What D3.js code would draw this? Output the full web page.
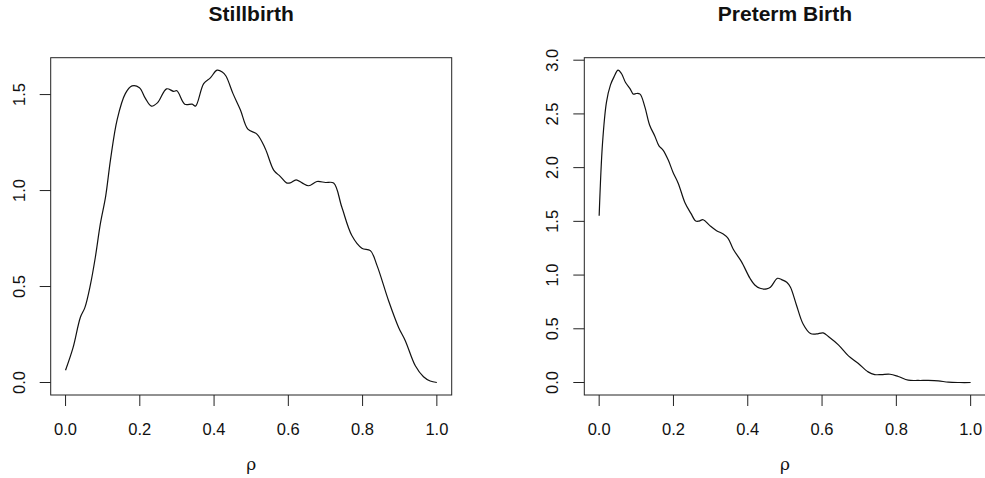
<!DOCTYPE html>
<html>
<head>
<meta charset="utf-8">
<script src="https://cdn.jsdelivr.net/npm/d3@7"></script>
<style>
  body { margin: 0; background: #fff; }
  svg { display: block; }
</style>
</head>
<body>
<div id="chart"></div>
<script>
// density estimates
const stillRho = [0, 0.02, 0.04, 0.052, 0.067, 0.08, 0.094, 0.108, 0.121, 0.139, 0.161, 0.179, 0.199, 0.215, 0.231, 0.248, 0.272, 0.291, 0.3, 0.321, 0.341, 0.35, 0.372, 0.39, 0.408, 0.422, 0.432, 0.451, 0.471, 0.491, 0.516, 0.538, 0.561, 0.578, 0.595, 0.605, 0.621, 0.637, 0.655, 0.677, 0.7, 0.722, 0.744, 0.771, 0.798, 0.821, 0.839, 0.87, 0.897, 0.915, 0.942, 0.964, 0.982, 1.0]
const stillDens = [0.064, 0.18, 0.34, 0.39, 0.51, 0.65, 0.83, 0.97, 1.16, 1.37, 1.505, 1.545, 1.536, 1.48, 1.44, 1.458, 1.53, 1.517, 1.52, 1.45, 1.45, 1.44, 1.557, 1.587, 1.627, 1.618, 1.597, 1.505, 1.42, 1.32, 1.293, 1.218, 1.105, 1.074, 1.04, 1.04, 1.056, 1.04, 1.025, 1.047, 1.042, 1.039, 0.914, 0.766, 0.70, 0.687, 0.609, 0.426, 0.287, 0.218, 0.087, 0.03, 0.008, 0.0]

const pretermRho = [0, 0.009, 0.0197, 0.0305, 0.04, 0.051, 0.06, 0.071, 0.083, 0.092, 0.1, 0.11, 0.123, 0.136, 0.15, 0.161, 0.172, 0.186, 0.199, 0.213, 0.231, 0.247, 0.26, 0.269, 0.28, 0.298, 0.316, 0.334, 0.347, 0.361, 0.383, 0.406, 0.419, 0.433, 0.451, 0.461, 0.48, 0.491, 0.505, 0.515, 0.531, 0.549, 0.569, 0.585, 0.603, 0.617, 0.644, 0.671, 0.697, 0.724, 0.742, 0.76, 0.783, 0.805, 0.832, 0.859, 0.886, 0.913, 0.94, 0.971, 1.0]
const pretermDens = [1.553, 2.225, 2.61, 2.77, 2.845, 2.907, 2.876, 2.792, 2.736, 2.684, 2.69, 2.684, 2.566, 2.395, 2.293, 2.203, 2.163, 2.07, 1.955, 1.853, 1.673, 1.574, 1.503, 1.503, 1.515, 1.46, 1.413, 1.382, 1.342, 1.24, 1.125, 0.97, 0.908, 0.877, 0.871, 0.886, 0.97, 0.958, 0.933, 0.886, 0.722, 0.545, 0.456, 0.452, 0.462, 0.428, 0.35, 0.248, 0.18, 0.099, 0.074, 0.074, 0.077, 0.056, 0.022, 0.019, 0.019, 0.015, 0.003, 0.0, 0.0]

const xTicks = [0, 0.2, 0.4, 0.6, 0.8, 1.0]
const stillTicks = [0, 0.5, 1.0, 1.5]
const pretermTicks = [0, 0.5, 1.0, 1.5, 2.0, 2.5, 3.0]

const panels = [
    { title: 'Stillbirth', rho: stillRho, dens: stillDens, yTicks: stillTicks, left: 50.7, right: 451.7 },
    { title: 'Preterm Birth', rho: pretermRho, dens: pretermDens, yTicks: pretermTicks, left: 584.3, right: 985.5 }
]

const dims = {
    width: 985,
    height: 478,
    plotTop: 57.7,
    plotBottom: 395
}

const svg = d3.select('#chart')
    .append('svg')
    .attr('width', dims.width)
    .attr('height', dims.height)

const tickFont = '16.5px "Liberation Sans", Arial, sans-serif'

panels.forEach(p => {
    // R style 4% padding on both axes
    const x = d3.scaleLinear().domain([-0.04, 1.04]).range([p.left, p.right])
    const [lo, hi] = d3.extent(p.dens)
    const pad = (hi - lo) * 0.04
    const y = d3.scaleLinear().domain([lo - pad, hi + pad]).range([dims.plotBottom, dims.plotTop])

    const g = svg.append('g')

    g.append('rect')
        .attr('x', p.left)
        .attr('y', dims.plotTop)
        .attr('width', p.right - p.left)
        .attr('height', dims.plotBottom - dims.plotTop)
        .attr('fill', 'none')
        .attr('stroke', '#222')
        .attr('stroke-width', 1)

    // x axis
    const xa = g.append('g')
    xa.selectAll('line')
        .data(xTicks)
        .join('line')
        .attr('x1', d => x(d)).attr('x2', d => x(d))
        .attr('y1', dims.plotBottom).attr('y2', dims.plotBottom + 11)
        .attr('stroke', '#222')
    xa.selectAll('text')
        .data(xTicks)
        .join('text')
        .attr('x', d => x(d))
        .attr('y', dims.plotBottom + 40)
        .attr('text-anchor', 'middle')
        .style('font', tickFont)
        .attr('fill', '#111')
        .text(d => d3.format('.1f')(d))

    // y axis
    const ya = g.append('g')
    ya.selectAll('line')
        .data(p.yTicks)
        .join('line')
        .attr('x1', p.left - 11).attr('x2', p.left)
        .attr('y1', d => y(d)).attr('y2', d => y(d))
        .attr('stroke', '#222')
    ya.selectAll('text')
        .data(p.yTicks)
        .join('text')
        .attr('transform', d => `translate(${p.left - 26},${y(d)}) rotate(-90)`)
        .attr('text-anchor', 'middle')
        .style('font', tickFont)
        .attr('fill', '#111')
        .text(d => d3.format('.1f')(d))

    g.append('text')
        .attr('x', (p.left + p.right) / 2)
        .attr('y', 21)
        .attr('text-anchor', 'middle')
        .style('font', 'bold 21px "Liberation Sans", Arial, sans-serif')
        .attr('fill', '#111')
        .text(p.title)

    g.append('text')
        .attr('x', x(0.5))
        .attr('y', 470)
        .attr('text-anchor', 'middle')
        .style('font', '17px "DejaVu Serif", serif')
        .attr('fill', '#111')
        .text('ρ')

    const line = d3.line()
        .x((d, i) => x(p.rho[i]))
        .y(d => y(d))
        .curve(d3.curveCatmullRom.alpha(0.5))

    g.append('path')
        .datum(p.dens)
        .attr('d', line)
        .attr('fill', 'none')
        .attr('stroke', '#111')
        .attr('stroke-width', 1.2)
})
</script>
</body>
</html>
